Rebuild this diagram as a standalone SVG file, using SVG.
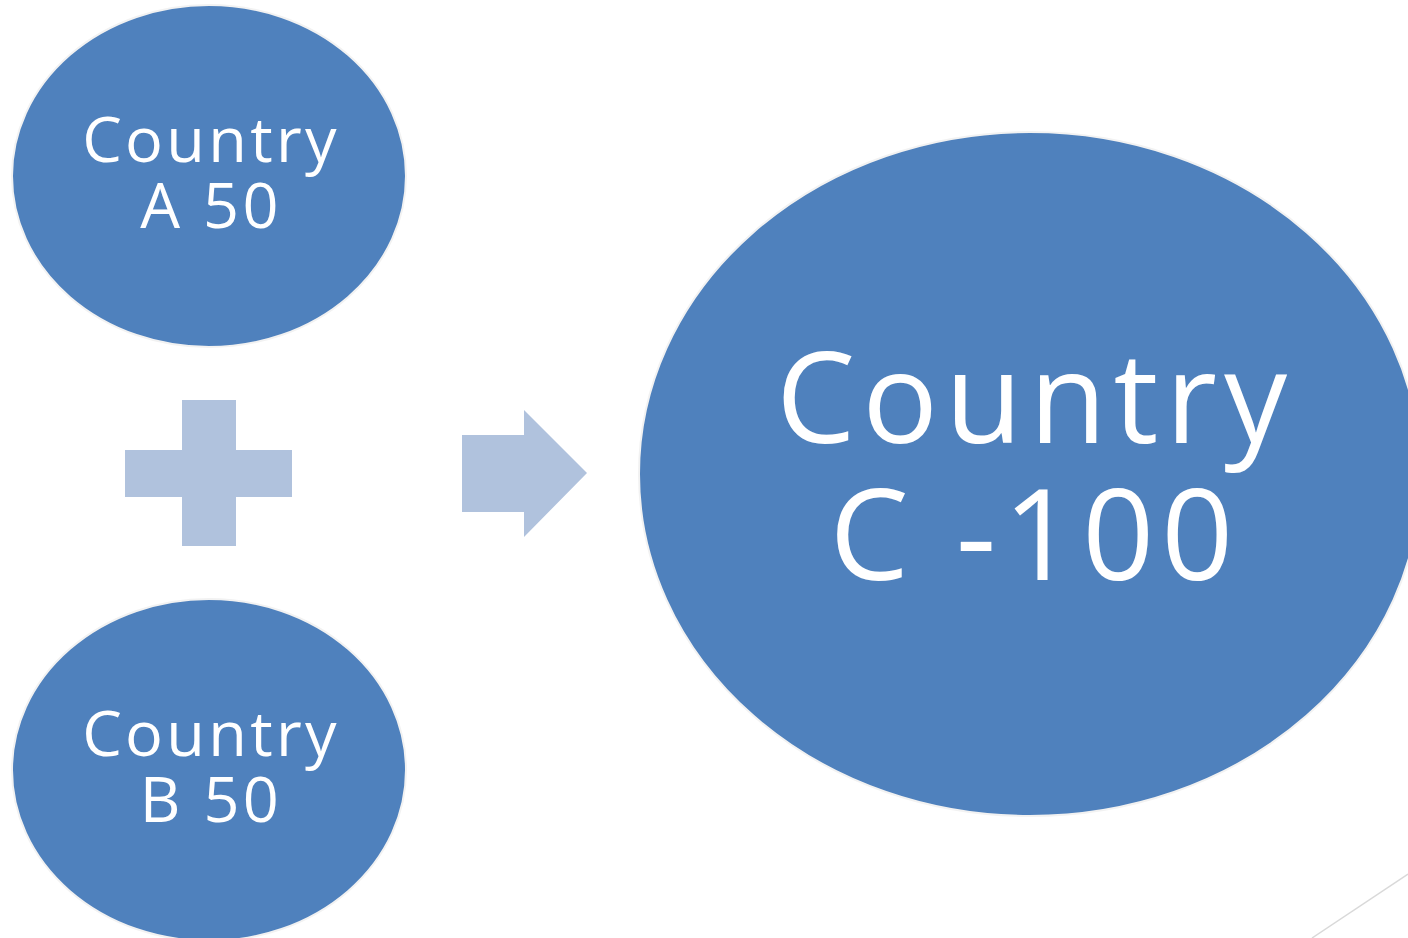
<svg xmlns="http://www.w3.org/2000/svg" width="1408" height="938" viewBox="0 0 1408 938">
<style>
.node{fill:#4f81bd;stroke:#f2f2f2;stroke-width:2}
.op{fill:#b0c2dd}
.t{font-family:"Open Sans","Liberation Sans",sans-serif;fill:#ffffff;text-anchor:middle}
.s{font-size:63px;letter-spacing:3.3px}
.b{font-size:126px;letter-spacing:7px}
</style>
<rect width="1408" height="938" fill="#ffffff"/>
<g id="nodeA">
<ellipse class="node" cx="209" cy="176" rx="197" ry="171"/>
<text class="t s"><tspan x="211" y="162">Country</tspan><tspan x="211" y="228">A 50</tspan></text>
</g>
<g id="nodeB">
<ellipse class="node" cx="209" cy="770" rx="197" ry="171"/>
<text class="t s"><tspan x="211" y="756">Country</tspan><tspan x="211" y="822">B 50</tspan></text>
</g>
<g id="nodeC">
<ellipse class="node" cx="1030" cy="474" rx="391" ry="342"/>
<text class="t b"><tspan x="1035" y="443">Country</tspan><tspan x="1035" y="580">C -100</tspan></text>
</g>
<g id="connectors">
<path id="plus" class="op" d="M182,400H236V450H292V497H236V546H182V497H125V450H182Z"/>
<path id="arrow" class="op" d="M462,435H524V410L587,473L524,537V512H462Z"/>
<line x1="1312" y1="938" x2="1408" y2="874" stroke="#d9d9d9" stroke-width="1.5"/>
</g>
</svg>
